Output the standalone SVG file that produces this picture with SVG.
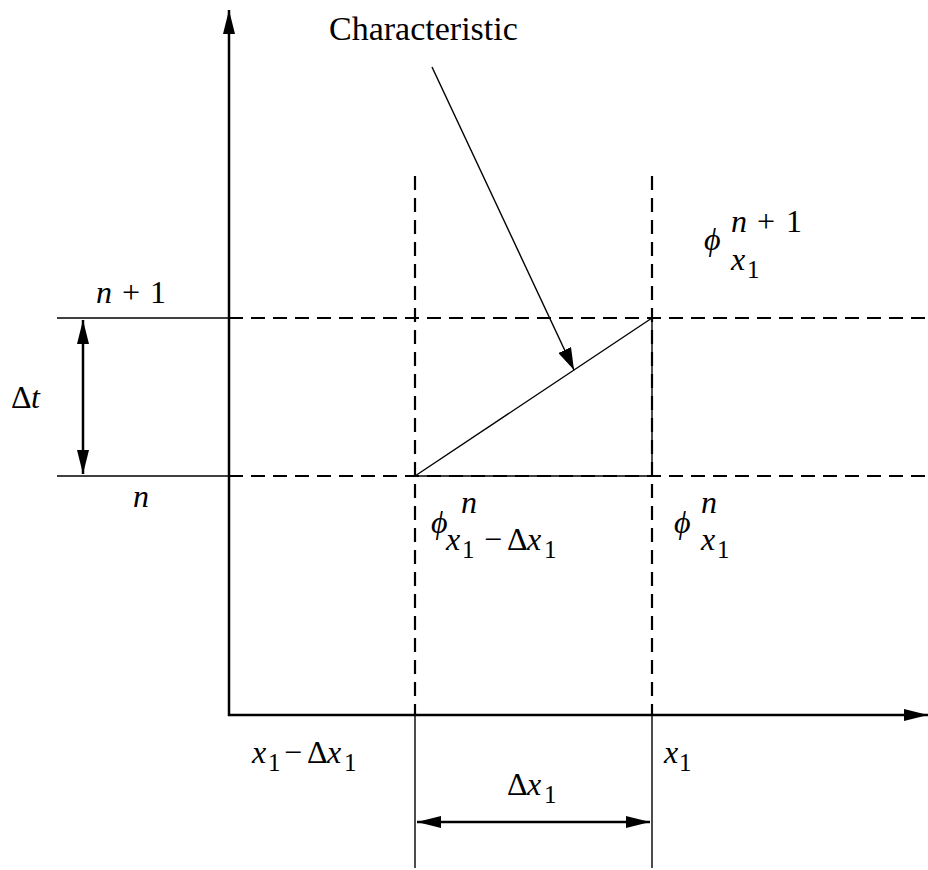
<svg xmlns="http://www.w3.org/2000/svg" width="928" height="870" viewBox="0 0 928 870">
<style>
.ax{stroke:#000;stroke-width:2.5;fill:none}
.th{stroke:#000;stroke-width:1.4;fill:none}
.da{stroke:#000;stroke-width:2.2;fill:none;stroke-dasharray:14,8}
.t{font-size:32px;fill:#000}
.i{font-style:italic}
.s{font-size:25px}
</style>
<defs>
<marker id="big" viewBox="0 0 24 12" refX="24" refY="6" markerWidth="24" markerHeight="12" markerUnits="userSpaceOnUse" orient="auto-start-reverse"><path d="M0,0 L24,6 L0,12 z" fill="#000"/></marker>
<marker id="ch" viewBox="0 0 22 14" refX="22" refY="7" markerWidth="22" markerHeight="14" markerUnits="userSpaceOnUse" orient="auto"><path d="M0,0 L22,7 L0,14 z" fill="#000"/></marker>
</defs>
<g id="grid">
<line class="th" x1="57" y1="318" x2="229" y2="318"/>
<line class="th" x1="57" y1="476" x2="229" y2="476"/>
<line class="da" x1="229" y1="318" x2="928" y2="318"/>
<line class="da" x1="229" y1="476" x2="928" y2="476"/>
<line class="da" x1="415" y1="176" x2="415" y2="715"/>
<line class="da" x1="652" y1="176" x2="652" y2="715"/>
<line class="th" x1="415" y1="715" x2="415" y2="868"/>
<line class="th" x1="652" y1="715" x2="652" y2="868"/>
</g>
<g id="axes">
<line class="ax" x1="229" y1="716" x2="229" y2="10" marker-end="url(#big)"/>
<line class="ax" x1="228" y1="715" x2="928" y2="715" marker-end="url(#big)"/>
</g>
<g id="connectors">
<line class="th" x1="415" y1="476" x2="652" y2="318"/>
<line class="th" x1="415" y1="476" x2="652" y2="476"/>
<line class="th" x1="652" y1="318" x2="652" y2="476"/>
<line class="th" x1="432" y1="67" x2="574" y2="370" marker-end="url(#ch)"/>
<line class="ax" x1="83" y1="320" x2="83" y2="474" marker-start="url(#big)" marker-end="url(#big)"/>
<line class="ax" x1="417" y1="822" x2="650" y2="822" marker-start="url(#big)" marker-end="url(#big)"/>
</g>
<g id="labels">
<text font-family="Liberation Serif" x="329" y="40" font-size="34" fill="#000">Characteristic</text>
<text font-family="Liberation Serif" class="t"><tspan class="i" x="96" y="303">n</tspan><tspan x="122" y="303">+</tspan><tspan x="150" y="303">1</tspan></text>
<text font-family="Liberation Serif" class="t"><tspan x="11" y="408">Δ</tspan><tspan class="i" x="31" y="408">t</tspan></text>
<text font-family="Liberation Serif" class="t i" x="133" y="507">n</text>
<text font-family="Liberation Serif" class="t"><tspan class="i" x="252" y="763">x</tspan><tspan class="s" x="268" y="771">1</tspan><tspan x="284" y="763">−</tspan><tspan x="307" y="763">Δ</tspan><tspan class="i" x="327" y="763">x</tspan><tspan class="s" x="344" y="771">1</tspan></text>
<text font-family="Liberation Serif" class="t"><tspan class="i" x="664" y="763">x</tspan><tspan class="s" x="679" y="771">1</tspan></text>
<text font-family="Liberation Serif" class="t"><tspan x="507" y="795">Δ</tspan><tspan class="i" x="527" y="795">x</tspan><tspan class="s" x="544" y="803">1</tspan></text>
<text font-family="Liberation Serif" class="t"><tspan class="i" x="704" y="250">ϕ</tspan><tspan class="i" x="731" y="232">n</tspan><tspan x="757" y="232">+</tspan><tspan x="786" y="232">1</tspan><tspan class="i" x="731" y="270">x</tspan><tspan class="s" x="747" y="278">1</tspan></text>
<text font-family="Liberation Serif" class="t"><tspan class="i" x="431" y="533">ϕ</tspan><tspan class="i" x="461" y="513">n</tspan><tspan class="i" x="446" y="550">x</tspan><tspan class="s" x="462" y="558">1</tspan><tspan x="484" y="550">−</tspan><tspan x="507" y="550">Δ</tspan><tspan class="i" x="527" y="550">x</tspan><tspan class="s" x="544" y="558">1</tspan></text>
<text font-family="Liberation Serif" class="t"><tspan class="i" x="674" y="533">ϕ</tspan><tspan class="i" x="701" y="513">n</tspan><tspan class="i" x="701" y="550">x</tspan><tspan class="s" x="717" y="558">1</tspan></text>
</g>
</svg>
